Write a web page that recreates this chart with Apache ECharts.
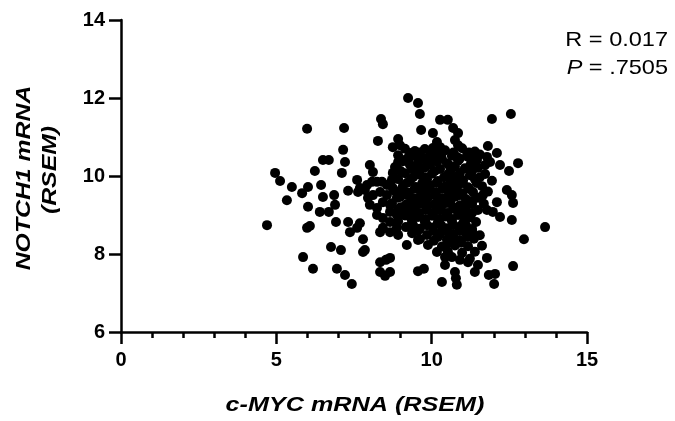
<!DOCTYPE html>
<html>
<head>
<meta charset="utf-8">
<script src="https://cdn.jsdelivr.net/npm/echarts@6/dist/echarts.min.js"></script>
<style>
html,body{margin:0;padding:0;background:#fff;}
#chart{width:675px;height:421px;}
</style>
</head>
<body>
<div id="chart"></div>
<script>
// c-MYC mRNA (RSEM) vs NOTCH1 mRNA (RSEM)
const sparsePoints = [
  [5.99,11.21],[7.18,11.23],[8.37,11.46],[8.43,11.33],[8.27,10.90],[8.75,10.74],[8.92,10.95],
  [7.15,10.67],[7.21,10.36],[6.50,10.41],[6.69,10.41],[6.24,10.13],[7.11,10.08],[4.96,10.08],
  [5.12,9.87],[5.50,9.72],[5.34,9.38],[5.83,9.56],[6.02,9.72],[6.44,9.77],[6.50,9.46],
  [6.86,9.51],[6.02,9.21],[6.89,9.26],[6.40,9.08],[6.69,9.08],[6.92,8.82],[4.70,8.74],
  [5.99,8.67],[6.08,8.72],[7.31,9.62],[7.60,9.90],[7.69,9.69],[7.31,8.82],[7.37,8.56],
  [7.60,8.67],[7.69,8.79],[7.79,8.38],[6.76,8.18],[7.08,8.10],[7.79,8.05],[7.85,8.10],
  [5.86,7.92],[6.18,7.62],[6.95,7.62],[7.21,7.46],[7.43,7.23],[8.34,7.79],[8.53,7.85],
  [8.34,7.54],[8.50,7.44]
];
const leftClusterPoints = [
  [8.01,10.28],[8.11,10.10],[7.92,9.77],[8.08,9.85],[8.24,9.85],[8.40,9.85],[7.95,9.44],
  [8.11,9.51],[8.34,9.59],[8.56,9.51],[8.75,9.69],[8.88,10.21],[8.75,10.08],[8.92,10.36],
  [8.01,9.26],[8.24,9.18],[8.43,9.33],[8.66,9.26],[8.88,9.44],[8.24,9.00],[8.43,8.92],
  [8.66,8.82],[8.88,9.00],[8.43,8.67],[8.66,8.56],[8.88,8.67],[8.34,8.56],[8.92,8.49],
  [8.56,9.77],[8.72,9.90],[7.85,9.64],[7.63,9.59]
];
const rightSparsePoints = [
  [9.24,12.00],[9.56,11.87],[9.62,11.59],[9.66,11.18],[10.27,11.44],[10.52,11.44],[10.04,11.10],
  [10.69,11.23],[10.85,11.10],[11.94,11.46],[12.55,11.59],[8.98,10.79],[10.17,10.87],[10.27,10.74],
  [10.04,10.72],[10.75,10.92],[10.85,10.79],[11.81,10.77],[12.10,10.59],[12.78,10.33],[12.20,10.28],
  [12.49,10.13],[11.78,10.49],[11.72,10.28],[12.42,9.64],[12.58,9.51],[12.62,9.31],[12.58,8.87],
  [12.97,8.38],[13.65,8.69],[12.62,7.69],[11.84,7.46],[12.04,7.49],[12.01,7.23],[11.39,7.54],
  [10.33,7.28],[10.81,7.21],[10.78,7.38],[10.75,7.54],[9.56,7.56],[9.75,7.62],[10.17,8.05],
  [10.43,7.72],[10.65,7.92],[10.91,7.85],[11.17,7.79],[11.49,7.72],[11.78,7.90],[9.20,8.23],
  [9.56,8.36],[12.10,9.33],[11.78,9.13],[12.20,8.95],[11.97,9.08],[9.30,10.59],[9.53,10.49],
  [9.95,10.54],[10.36,10.62],[10.81,10.49],[11.14,10.54],[11.46,10.41],[8.66,9.08],[8.66,7.90],
  [8.66,7.54]
];
const corePoints = [
  [9.14,10.70],[9.46,10.64],[9.78,10.69],[10.43,10.66],[10.98,10.71],[11.39,10.63],
  [8.92,10.53],[9.30,10.48],[10.01,10.47],[10.65,10.52],[11.17,10.49],[11.55,10.55],
  [9.08,10.38],[9.56,10.34],[10.17,10.37],[10.49,10.33],[10.85,10.39],[11.30,10.35],[11.88,10.36],
  [8.82,10.23],[9.37,10.19],[9.78,10.22],[10.27,10.18],[10.75,10.24],[11.07,10.20],[11.49,10.21],
  [9.14,10.07],[9.62,10.03],[10.01,10.06],[10.52,10.04],[10.91,10.08],[11.23,10.02],[11.72,10.05],
  [8.92,9.92],[9.30,9.88],[9.85,9.91],[10.20,9.87],[10.65,9.93],[11.01,9.89],[11.39,9.92],[11.94,9.88],
  [9.08,9.76],[9.49,9.72],[9.95,9.75],[10.43,9.73],[10.85,9.77],[11.17,9.71],[11.62,9.74],
  [8.82,9.61],[9.27,9.57],[9.69,9.60],[10.14,9.58],[10.59,9.62],[10.98,9.56],[11.33,9.59],[11.81,9.60],
  [8.98,9.46],[9.43,9.42],[9.88,9.45],[10.33,9.43],[10.75,9.47],[11.10,9.41],[11.49,9.44],
  [8.72,9.30],[9.17,9.26],[9.62,9.29],[10.07,9.27],[10.49,9.31],[10.91,9.25],[11.30,9.28],[11.68,9.29],
  [8.92,9.15],[9.37,9.11],[9.82,9.14],[10.27,9.12],[10.69,9.16],[11.07,9.10],[11.49,9.13],
  [9.14,8.99],[9.56,8.95],[10.01,8.98],[10.46,8.96],[10.85,9.00],[11.23,8.94],
  [8.92,8.84],[9.37,8.80],[9.78,8.83],[10.20,8.81],[10.65,8.85],[11.01,8.79],[11.43,8.82],
  [9.17,8.69],[9.62,8.65],[10.04,8.68],[10.49,8.66],[10.91,8.70],[11.30,8.64],
  [9.37,8.53],[9.85,8.49],[10.27,8.52],[10.69,8.50],[11.10,8.54],[11.55,8.48],
  [9.62,8.38],[10.07,8.34],[10.49,8.37],[10.91,8.35],[11.36,8.39],
  [9.88,8.23],[10.33,8.19],[10.75,8.22],[11.17,8.20],[11.62,8.21],
  [10.52,8.07],[10.98,8.03],[11.39,8.06],
  [10.43,7.92],[11.23,7.88]
];
const coreFillPoints = [
  [9.62,10.60],[10.20,10.60],[10.70,10.60],[11.20,10.60],
  [9.20,10.44],[9.75,10.44],[10.33,10.44],[10.90,10.44],[11.35,10.44],
  [9.30,10.29],[9.95,10.29],[10.55,10.29],[11.25,10.29],
  [9.00,10.13],[9.55,10.13],[10.10,10.13],[10.60,10.13],[11.30,10.13],
  [9.40,9.97],[9.80,9.97],[10.40,9.97],[10.80,9.97],[11.55,9.97],
  [9.20,9.82],[9.70,9.82],[10.15,9.82],[10.60,9.82],[11.00,9.82],[11.45,9.82],
  [9.05,9.67],[9.45,9.67],[9.90,9.67],[10.35,9.67],[10.80,9.67],[11.20,9.67],
  [9.20,9.51],[9.65,9.51],[10.10,9.51],[10.55,9.51],[10.90,9.51],[11.65,9.51],
  [9.35,9.36],[9.80,9.36],[10.20,9.36],[10.60,9.36],[11.30,9.36],
  [9.00,9.20],[9.45,9.20],[9.85,9.20],[10.30,9.20],[10.70,9.20],[11.10,9.20],
  [9.15,9.05],[9.60,9.05],[10.05,9.05],[10.50,9.05],[10.90,9.05],[11.30,9.05],
  [9.35,8.90],[9.80,8.90],[10.25,8.90],[10.65,8.90],[11.05,8.90],
  [9.40,8.74],[9.85,8.74],[10.30,8.74],[10.70,8.74],[11.10,8.74],
  [9.55,8.59],[10.05,8.59],[10.50,8.59],[10.90,8.59],[11.30,8.59],
  [10.20,8.44],[10.70,8.44],[11.15,8.44],
  [10.55,8.29],[10.95,8.29]
];
const xTickValues = [0, 5, 10, 15];
const yTickValues = [6, 8, 10, 12, 14];
const statR = 'R = 0.017';
const statP = '.7505';

const allPoints = sparsePoints.concat(leftClusterPoints, rightSparsePoints, corePoints, coreFillPoints);
const chart = echarts.init(document.getElementById('chart'), null, {renderer: 'canvas'});
const FONT = '"Liberation Sans", Arial, Helvetica, sans-serif';
chart.setOption({
  animation: false,
  backgroundColor: '#ffffff',
  grid: {left: 121, right: 88, top: 20, bottom: 89},
  xAxis: {
    type: 'value',
    min: xTickValues[0], max: xTickValues[xTickValues.length - 1], interval: 5,
    axisLine: {show: true, onZero: false, lineStyle: {color: '#000', width: 2.5}},
    axisTick: {show: true, length: 12, lineStyle: {color: '#000', width: 2.5}},
    minorTick: {show: true, splitNumber: 5, length: 6, lineStyle: {color: '#000', width: 2.5}},
    splitLine: {show: false},
    axisLabel: {color: '#000', fontFamily: FONT, fontWeight: 'bold', fontSize: 20, margin: 18}
  },
  yAxis: {
    type: 'value',
    min: yTickValues[0], max: yTickValues[yTickValues.length - 1], interval: 2,
    axisLine: {show: true, onZero: false, lineStyle: {color: '#000', width: 2.5}},
    axisTick: {show: true, length: 12, lineStyle: {color: '#000', width: 2.5}},
    splitLine: {show: false},
    axisLabel: {color: '#000', fontFamily: FONT, fontWeight: 'bold', fontSize: 20, margin: 16}
  },
  graphic: [
    {type: 'text', x: 355, y: 405, scaleX: 1.26,
     style: {text: 'c-MYC mRNA (RSEM)', fill: '#000', font: 'italic bold 20px ' + FONT,
             textAlign: 'center', textVerticalAlign: 'middle'}},
    {type: 'text', x: 24, y: 178, rotation: Math.PI / 2, scaleX: 1.24,
     style: {text: 'NOTCH1 mRNA', fill: '#000', font: 'italic bold 20px ' + FONT,
             textAlign: 'center', textVerticalAlign: 'middle'}},
    {type: 'text', x: 50, y: 170, rotation: Math.PI / 2, scaleX: 1.24,
     style: {text: '(RSEM)', fill: '#000', font: 'italic bold 20px ' + FONT,
             textAlign: 'center', textVerticalAlign: 'middle'}},
    {type: 'text', x: 668, y: 40, scaleX: 1.12,
     style: {text: statR, fill: '#000', font: '21px ' + FONT,
             textAlign: 'right', textVerticalAlign: 'middle'}},
    {type: 'text', x: 668, y: 68, scaleX: 1.12,
     style: {text: '{i|P} = ' + statP, fill: '#000', font: '21px ' + FONT,
             textAlign: 'right', textVerticalAlign: 'middle',
             rich: {i: {fontStyle: 'italic', fontSize: 21, fontFamily: FONT, fill: '#000'}}}}
  ],
  series: [{
    type: 'scatter',
    data: allPoints,
    symbol: 'circle',
    symbolSize: 10,
    itemStyle: {color: '#000', opacity: 1},
    clip: false
  }]
});
</script>
</body>
</html>
